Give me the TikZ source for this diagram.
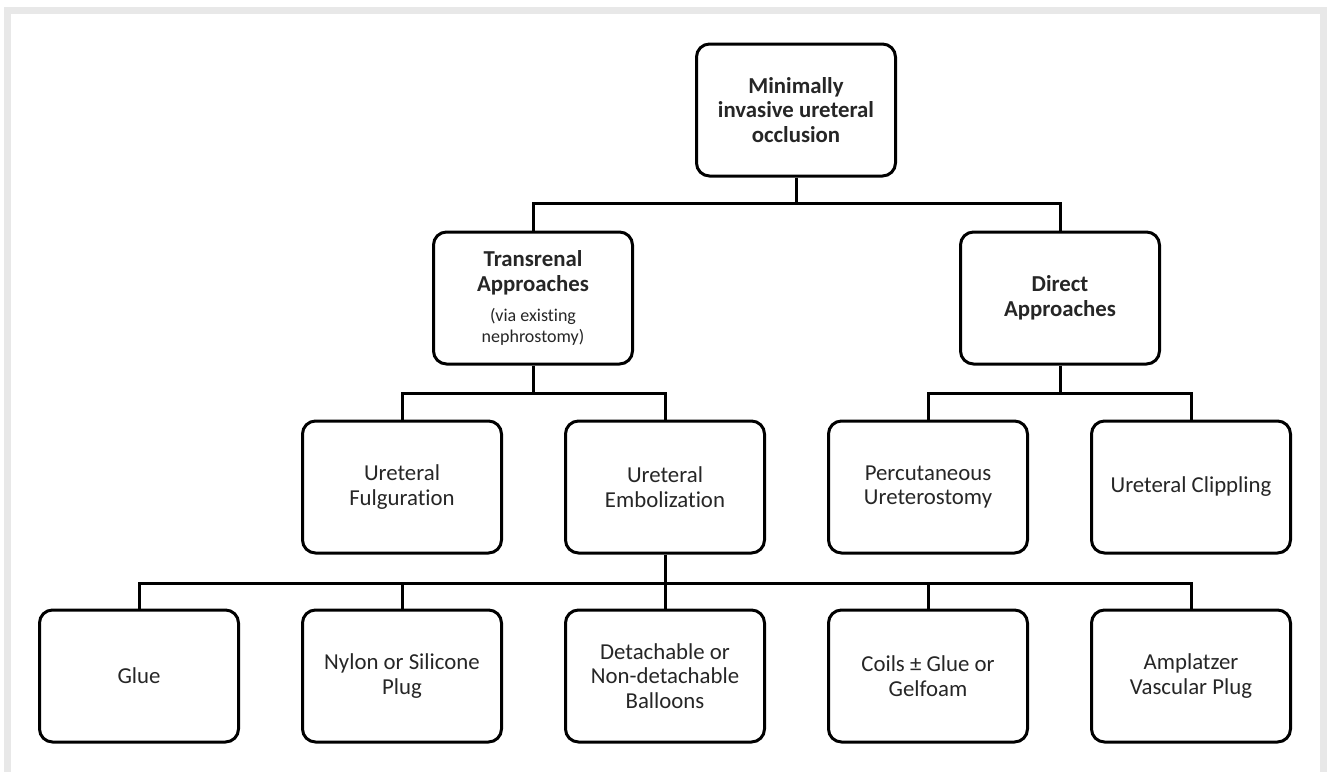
\documentclass[tikz,border=0pt]{standalone}
\usepackage{fontspec}
\setmainfont{Carlito}[Ligatures=NoCommon]
\usetikzlibrary{positioning}
\newcommand\smalltext{\fontsize{18}{20}\selectfont\mdseries}
\begin{document}
\begin{tikzpicture}[x=1pt,y=-1pt,node distance=263pt,
					main node/.style={draw,rounded corners=13pt,line width=3pt,fill=white,minimum width=199pt,minimum height=132pt,align=center,text=black!85,font=\fontsize{22.8}{24.5}\selectfont},
					head node/.style={main node,font=\fontsize{22.8}{24.5}\selectfont\bfseries},
					link/.style={line width=3pt}]
					\useasboundingbox (0,0) rectangle (1330,772);
					\draw[black!9,line width=7pt] (7.5,772) -- (7.5,10.5) -- (1323.5,10.5) -- (1323.5,772);
					
					\node[head node] (top) at (796,110) {Minimally\\invasive ureteral\\occlusion};
					\node[head node] (trans) at (533,298) {Transrenal\\Approaches\\[6pt]{\smalltext (via existing}\\[-4pt]{\smalltext nephrostomy)}};
					\node[head node] (direct) at (1060,298) {Direct\\Approaches};
					
					\node[main node] (fulg) at (402,487) {Ureteral\\Fulguration};
					\node[main node] (embol) [right of=fulg] {Ureteral\\Embolization};
					\node[main node] (percut) [right of=embol] {Percutaneous\\Ureterostomy};
					\node[main node] (clip) [right of=percut] {Ureteral Clippling};
					
					\node[main node] (glue) at (139,676) {Glue};
					\node[main node] (nylon) [right of=glue] {Nylon or Silicone\\Plug};
					\node[main node] (balloon) [right of=nylon] {Detachable or\\Non-detachable\\Balloons};
					\node[main node] (coils) [right of=balloon] {Coils ± Glue or\\Gelfoam};
					\node[main node] (ampl) [right of=coils] {Amplatzer\\Vascular Plug};
					
					\coordinate (bus1) at (796,203);
					\coordinate (bus2) at (533,393);
					\coordinate (bus3) at (1060,393);
					\coordinate (bus4) at (665,583);
					
					\draw[link] (top) -- (bus1);
					\draw[link] (trans.north) |- (bus1) -| (direct.north);
					\draw[link] (trans) -- (bus2);
					\draw[link] (fulg.north) |- (bus2) -| (embol.north);
					\draw[link] (direct) -- (bus3);
					\draw[link] (percut.north) |- (bus3) -| (clip.north);
					\draw[link] (embol) -- (bus4);
					\draw[link] (glue.north) |- (bus4) -| (ampl.north);
					\foreach \n in {nylon,balloon,coils}
					\draw[link] (\n.north) -- (\n.north |- bus4);
					\end{tikzpicture}
\end{document}
